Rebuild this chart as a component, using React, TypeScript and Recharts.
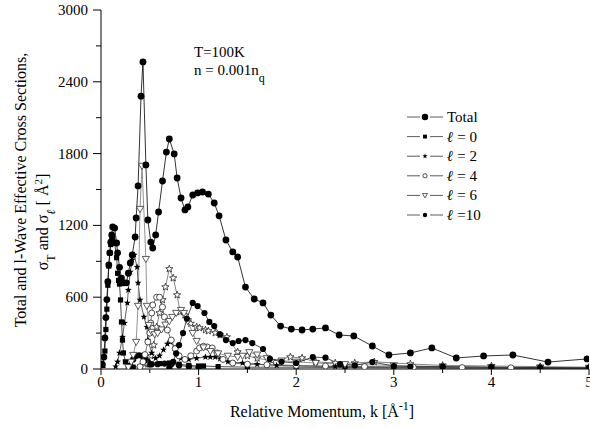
import React from 'react';
import { LineChart, Line, XAxis, YAxis, Legend, Customized } from 'recharts';

const FONT = "'Liberation Serif', 'Times New Roman', serif";

// [k (1/Å), sigma (Å^2)]
const total: [number, number][] = [
  [0.01, 40], [0.03, 100], [0.04, 260], [0.05, 430], [0.06, 580], [0.07, 730], [0.08, 870], [0.09, 970],
  [0.1, 1060], [0.11, 1120], [0.12, 1187], [0.14, 1178], [0.16, 1053], [0.17, 970], [0.19, 850], [0.21, 760],
  [0.23, 720], [0.26, 720], [0.28, 800], [0.3, 886], [0.32, 953], [0.35, 1103], [0.36, 1262], [0.38, 1530],
  [0.41, 2280], [0.43, 2566], [0.46, 1705], [0.48, 1245], [0.51, 1061], [0.53, 1011], [0.56, 1120], [0.59, 1312],
  [0.63, 1571], [0.67, 1813], [0.7, 1922], [0.75, 1797], [0.78, 1596], [0.82, 1429], [0.86, 1329], [0.89, 1354],
  [0.94, 1454], [0.99, 1471], [1.04, 1479], [1.1, 1462], [1.16, 1387], [1.21, 1280], [1.28, 1078], [1.35, 978],
  [1.4, 936], [1.48, 685], [1.57, 585], [1.66, 552], [1.74, 451], [1.84, 359], [1.95, 334], [2.06, 326],
  [2.17, 334], [2.3, 343], [2.44, 284], [2.59, 276], [2.78, 192], [2.95, 117], [3.17, 134], [3.39, 176],
  [3.64, 92], [3.92, 109], [4.22, 117], [4.58, 58], [4.98, 84],
];

const l0: [number, number][] = [
  [0.02, 30], [0.04, 150], [0.05, 330], [0.06, 500], [0.07, 700], [0.08, 860], [0.09, 970], [0.1, 1040],
  [0.11, 1080], [0.12, 1090], [0.14, 1050], [0.16, 930], [0.17, 800], [0.18, 740], [0.19, 710], [0.2, 577],
  [0.21, 393], [0.22, 242], [0.23, 134], [0.25, 60], [0.28, 25], [0.33, 15], [0.4, 20], [0.5, 35], [0.6, 45],
  [0.7, 50], [0.8, 40], [0.9, 30], [1.0, 25], [1.05, 25], [1.2, 20], [1.5, 15], [2.0, 15], [2.5, 12], [3.0, 10],
  [3.5, 8], [4.0, 8], [4.5, 6], [5.0, 5],
];

const l2: [number, number][] = [
  [0.15, 20], [0.17, 60], [0.19, 134], [0.22, 267], [0.24, 384], [0.27, 552], [0.28, 660], [0.3, 811],
  [0.32, 911], [0.34, 953], [0.37, 852], [0.38, 719], [0.4, 577], [0.44, 435], [0.47, 351], [0.48, 242],
  [0.52, 134], [0.56, 90], [0.6, 110], [0.64, 160], [0.68, 210], [0.71, 226], [0.76, 176], [0.78, 125],
  [0.82, 90], [0.9, 80], [0.98, 90], [1.07, 100], [1.12, 100], [1.17, 100], [1.22, 85], [1.3, 60], [1.45, 50],
  [1.6, 40], [1.8, 30], [2.0, 25], [2.4, 20], [3.0, 15], [3.5, 12], [4.0, 10], [4.5, 8], [5.0, 6],
];

const l4: [number, number][] = [
  [0.4, 20], [0.43, 60], [0.45, 120], [0.48, 226], [0.5, 300], [0.51, 384], [0.52, 468], [0.53, 535],
  [0.57, 600], [0.6, 600], [0.63, 518], [0.65, 435], [0.68, 326], [0.72, 242], [0.76, 170], [0.8, 110],
  [0.86, 80], [0.92, 110], [0.98, 150], [1.01, 176], [1.05, 190], [1.09, 184], [1.14, 176], [1.19, 134],
  [1.25, 80], [1.35, 50], [1.5, 40], [1.7, 35], [2.0, 30], [2.3, 25], [2.7, 20], [3.2, 15], [3.7, 12],
  [4.2, 10], [5.0, 8],
];

const l6: [number, number][] = [
  [0.28, 15], [0.31, 60], [0.33, 117], [0.36, 226], [0.38, 527], [0.4, 1337], [0.42, 1697], [0.46, 919],
  [0.47, 527], [0.49, 368], [0.52, 310], [0.55, 290], [0.58, 300], [0.62, 330], [0.66, 370], [0.7, 400],
  [0.73, 435], [0.77, 468], [0.82, 493], [0.85, 468], [0.89, 400], [0.94, 300], [0.98, 234], [1.05, 180],
  [1.12, 150], [1.2, 130], [1.3, 110], [1.4, 100], [1.45, 110], [1.52, 140], [1.6, 120], [1.7, 90],
  [1.85, 70], [2.0, 60], [2.2, 50], [2.5, 40], [3.0, 30], [3.5, 20], [4.0, 15], [4.5, 12], [5.0, 10],
];

const l10: [number, number][] = [
  [0.7, 10], [0.74, 60], [0.77, 130], [0.8, 200], [0.84, 300], [0.88, 420], [0.94, 552], [0.99, 526],
  [1.06, 468], [1.11, 393], [1.16, 359], [1.22, 290], [1.28, 242], [1.35, 217], [1.41, 234], [1.48, 242],
  [1.55, 217], [1.66, 167], [1.73, 84], [1.85, 60], [2.0, 50], [2.17, 100], [2.3, 95], [2.45, 40], [2.6, 30],
  [2.78, 58], [3.0, 25], [3.17, 20], [3.5, 20], [4.0, 15], [4.5, 12], [5.0, 10],
];

// open-star curve and low dots drawn in the figure but not named in its legend
const openStars: [number, number][] = [
  [0.48, 40], [0.51, 110], [0.54, 200], [0.57, 351], [0.6, 468], [0.63, 577], [0.66, 685], [0.7, 836],
  [0.74, 760], [0.78, 618], [0.81, 476], [0.86, 451], [0.92, 380], [0.98, 351], [1.01, 343], [1.07, 326],
  [1.1, 318], [1.17, 301], [1.22, 284], [1.29, 267], [1.4, 142], [1.5, 110], [1.6, 90], [1.75, 70],
  [1.94, 100], [2.06, 92], [2.2, 60], [2.4, 50], [2.6, 50], [2.8, 60], [3.17, 42], [3.5, 30], [4.0, 25],
  [4.5, 20], [5.0, 15],
];

const lowDots: [number, number][] = [
  [0.3, 30], [0.33, 80], [0.36, 110], [0.39, 115], [0.42, 110], [0.45, 90], [0.48, 60], [0.52, 40],
  [0.58, 40], [0.65, 45], [0.72, 40], [0.8, 30], [0.9, 20], [1.0, 15],
];

const kTicks = [0, 0.5, 1, 1.5, 2, 2.5, 3, 3.5, 4, 4.5, 5];
const sigmaTicks = [0, 300, 600, 900, 1200, 1500, 1800, 2100, 2400, 2700, 3000];

type Kind = 'dot' | 'square' | 'star' | 'ocircle' | 'otri' | 'smalldot' | 'ostar';

const starPoints = (cx: number, cy: number, R: number) => {
  const pts: string[] = [];
  for (let i = 0; i < 10; i++) {
    const a = (-90 + i * 36) * Math.PI / 180;
    const r = i % 2 ? R * 0.42 : R;
    pts.push(`${cx + r * Math.cos(a)},${cy + r * Math.sin(a)}`);
  }
  return pts.join(' ');
};

const Marker = ({ kind, cx, cy, s = 1 }: { kind: Kind; cx: number; cy: number; s?: number }) => {
  if (cx == null || cy == null) return null;
  switch (kind) {
    case 'dot': return <circle cx={cx} cy={cy} r={3.4 * s} fill="#000" />;
    case 'smalldot': return <circle cx={cx} cy={cy} r={3.1 * s} fill="#000" />;
    case 'square': return <rect x={cx - 2.6 * s} y={cy - 2.6 * s} width={5.2 * s} height={5.2 * s} fill="#000" />;
    case 'star': return <polygon points={starPoints(cx, cy, 3.6 * s)} fill="#000" />;
    case 'ostar': return <polygon points={starPoints(cx, cy, 3.8 * s)} fill="#fff" stroke="#222" strokeWidth={0.8} />;
    case 'ocircle': return <circle cx={cx} cy={cy} r={3 * s} fill="#fff" stroke="#222" strokeWidth={0.8} />;
    case 'otri': return <polygon points={`${cx - 3.6 * s},${cy - 2.6 * s} ${cx + 3.6 * s},${cy - 2.6 * s} ${cx},${cy + 3.6 * s}`} fill="#fff" stroke="#333" strokeWidth={0.8} />;
  }
  return null;
};

const series = [
  { id: 'lowDots', pts: lowDots, kind: 'smalldot' as Kind, stroke: '#222' },
  { id: 'openStars', pts: openStars, kind: 'ostar' as Kind, stroke: '#666' },
  { id: 'l0', pts: l0, kind: 'square' as Kind, stroke: '#222' },
  { id: 'l2', pts: l2, kind: 'star' as Kind, stroke: '#333' },
  { id: 'l4', pts: l4, kind: 'ocircle' as Kind, stroke: '#555' },
  { id: 'l6', pts: l6, kind: 'otri' as Kind, stroke: '#777' },
  { id: 'l10', pts: l10, kind: 'smalldot' as Kind, stroke: '#222' },
  { id: 'total', pts: total, kind: 'dot' as Kind, stroke: '#000' },
];

const legendRows: { kind: Kind; ell: boolean; label: string; s: number }[] = [
  { kind: 'dot', ell: false, label: 'Total', s: 0.95 },
  { kind: 'square', ell: true, label: ' = 0', s: 0.75 },
  { kind: 'star', ell: true, label: ' = 2', s: 0.75 },
  { kind: 'ocircle', ell: true, label: ' = 4', s: 0.7 },
  { kind: 'otri', ell: true, label: ' = 6', s: 0.7 },
  { kind: 'smalldot', ell: true, label: ' =10', s: 0.7 },
];

const txt = { fontFamily: FONT, fill: '#000' };

const BottomTick = (p: any) => {
  const v = p.payload.value;
  const major = Number.isInteger(v);
  return (
    <g>
      <line x1={p.x} x2={p.x} y1={p.y} y2={p.y + (major ? 6 : 4)} stroke="#000" />
      {major && <text x={p.x} y={p.y + 18} textAnchor="middle" fontSize={15} {...txt}>{v}</text>}
    </g>
  );
};
const TopTick = (p: any) => {
  const major = Number.isInteger(p.payload.value);
  return <line x1={p.x} x2={p.x} y1={p.y} y2={p.y + (major ? 7 : 4)} stroke="#000" />;
};
const LeftTick = (p: any) => {
  const v = p.payload.value;
  const major = v % 600 === 0;
  return (
    <g>
      <line x1={p.x} x2={p.x - (major ? 8 : 5)} y1={p.y} y2={p.y} stroke="#000" />
      {major && <text x={p.x - 13} y={p.y + 5} textAnchor="end" fontSize={15} {...txt}>{v}</text>}
    </g>
  );
};
const RightTick = (p: any) => {
  const major = p.payload.value % 600 === 0;
  return <line x1={p.x} x2={p.x - (major ? 7 : 5)} y1={p.y} y2={p.y} stroke="#000" />;
};

const LegendBox = () => (
  <svg width={110} height={122} style={{ overflow: 'visible', display: 'block' }}>
    {legendRows.map((r, i) => {
      const y = 10 + i * 19.6;
      return (
        <g key={i}>
          <line x1={0} x2={13} y1={y} y2={y} stroke="#333" strokeWidth={0.8} />
          <line x1={23} x2={36} y1={y} y2={y} stroke="#333" strokeWidth={0.8} />
          <Marker kind={r.kind} cx={18} cy={y} s={r.s} />
          <text x={40} y={y + 5} fontSize={15} {...txt}>
            {r.ell && <tspan fontStyle="italic" fontWeight="bold">ℓ</tspan>}
            {r.label}
          </text>
        </g>
      );
    })}
  </svg>
);

const Annotations = () => (
  <g>
    <text x={194} y={57} fontSize={15} {...txt}>T=100K</text>
    <text x={194} y={75} fontSize={15} {...txt}>
      n = 0.001n<tspan baselineShift="sub" fontSize={12}>q</tspan>
    </text>
    <text transform="translate(26,190) rotate(-90)" textAnchor="middle" fontSize={16} {...txt}>
      Total and l-Wave Effective Cross Sections,
    </text>
    <text transform="translate(48,222) rotate(-90)" textAnchor="middle" fontSize={16} {...txt}>
      σ<tspan baselineShift="sub" fontSize={12}>T</tspan> and σ
      <tspan baselineShift="sub" fontSize={12} fontStyle="italic" fontWeight="bold">ℓ</tspan>
      {' [ Å'}<tspan baselineShift="super" fontSize={11}>2</tspan>]
    </text>
    <text x={322} y={417} textAnchor="middle" fontSize={16} {...txt}>
      Relative Momentum, k [Å<tspan baselineShift="super" fontSize={12}>-1</tspan>]
    </text>
  </g>
);

export default function App() {
  return (
    <div style={{ position: 'absolute', left: 0, top: 0, width: 590, height: 428, background: '#fff' }}>
      <LineChart width={590} height={428} margin={{ top: 10, right: 1, bottom: 0, left: 0 }}>
        <XAxis dataKey="k" type="number" domain={[0, 5]} ticks={kTicks} interval={0} allowDataOverflow
          height={59} tickSize={0} tickMargin={0} tick={BottomTick} tickLine={false} stroke="#000" />
        <XAxis xAxisId="top" orientation="top" type="number" domain={[0, 5]} ticks={kTicks} interval={0}
          height={0} tickSize={0} tickMargin={0} tick={TopTick} tickLine={false} stroke="#000" />
        <YAxis type="number" domain={[0, 3000]} ticks={sigmaTicks} interval={0} allowDataOverflow
          width={101} tickSize={0} tickMargin={0} tick={LeftTick} tickLine={false} stroke="#000" />
        <YAxis yAxisId="right" orientation="right" type="number" domain={[0, 3000]} ticks={sigmaTicks} interval={0}
          width={0} tickSize={0} tickMargin={0} tick={RightTick} tickLine={false} stroke="#000" />
        {series.map((s) => (
          <Line key={s.id} data={s.pts.map(([k, v]) => ({ k, v }))} dataKey="v" stroke={s.stroke}
            strokeWidth={0.8} isAnimationActive={false} legendType="none"
            dot={(p: any) => <Marker key={`${s.id}-${p.index}`} kind={s.kind} cx={p.cx} cy={p.cy} />}
            activeDot={false} />
        ))}
        <Legend layout="horizontal" verticalAlign="middle" align="center" content={LegendBox}
          wrapperStyle={{ left: 407, top: 107, width: 110, height: 122 }} />
        <Customized component={Annotations} />
      </LineChart>
    </div>
  );
}
